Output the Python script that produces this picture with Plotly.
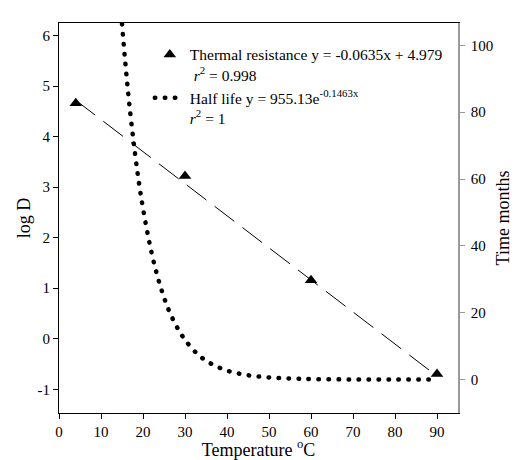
import plotly.graph_objects as go

# Thermal resistance (log D) measured points
temp_pts = [4, 30, 60, 90]
logd_pts = [4.66, 3.22, 1.16, -0.70]

# Regression line for thermal resistance (end points)
reg_x = [4, 90]
reg_y = [4.72, -0.74]

# Half life curve (months)
hl_x = [15, 16, 17, 18, 19, 20, 22, 24, 26, 28, 30, 33, 36, 40, 45, 50, 55, 60, 70, 80, 90]
hl_y = [106.4, 91.9, 79.4, 68.6, 59.2, 51.2, 38.2, 28.5, 21.2, 15.9, 11.9, 7.6, 4.9,
        2.7, 1.3, 0.64, 0.31, 0.15, 0.035, 0.008, 0.002]

x_ticks = [0, 10, 20, 30, 40, 50, 60, 70, 80, 90]
y_ticks = [-1, 0, 1, 2, 3, 4, 5, 6]
y_tick_labels = ["-1", "0", "1", "2", "3", "4", "5", "6"]
y2_ticks = [0, 20, 40, 60, 80, 100]

FONT = "Liberation Serif"

fig = go.Figure()

fig.add_trace(go.Scatter(
    x=reg_x, y=reg_y, mode="lines",
    line=dict(color="black", width=1, dash="24px,11px"),
    showlegend=False, hoverinfo="skip"))

fig.add_trace(go.Scatter(
    x=temp_pts, y=logd_pts, mode="markers",
    marker=dict(symbol="triangle-up", size=11, color="black"),
    name="Thermal resistance y = -0.0635x + 4.979<br> <i>r</i><sup>2</sup> = 0.998"))

fig.add_trace(go.Scatter(
    x=hl_x, y=hl_y, mode="lines", yaxis="y2",
    line=dict(color="black", width=4.5, dash="0.5px,9.5px", shape="spline"),
    name="Half life y = 955.13e<sup>-0.1463x</sup><br><i>r</i><sup>2</sup> = 1"))

fig.update_layout(
    width=518, height=460,
    margin=dict(l=59, r=60, t=23, b=47),
    paper_bgcolor="white", plot_bgcolor="white",
    font=dict(family=FONT, size=15, color="black"),
    showlegend=True,
    legend=dict(x=0.2276, y=0.962, xanchor="left", yanchor="top",
                bgcolor="rgba(0,0,0,0)", valign="top",
                font=dict(family=FONT, size=15.5, color="black")),
    xaxis=dict(range=[0, 95], tickvals=x_ticks, ticks="outside", ticklen=5,
               tickcolor="black", showline=True, linecolor="black", linewidth=1,
               mirror=True, showgrid=False, zeroline=False,
               automargin=False,
               title=dict(text="Temperature <sup>o</sup>C",
                          font=dict(family=FONT, size=18), standoff=6)),
    yaxis=dict(range=[-1.47, 6.25], tickvals=y_ticks, ticktext=y_tick_labels,
               ticks="outside", ticklen=5, automargin=False,
               tickcolor="black", showline=True, linecolor="black", linewidth=1,
               showgrid=False, zeroline=False,
               title=dict(text="log D", font=dict(family=FONT, size=18), standoff=2)),
    yaxis2=dict(range=[-10, 106.67], tickvals=y2_ticks, ticks="outside", ticklen=5,
                tickcolor="#9a9a9a", showline=True, linecolor="#9a9a9a", linewidth=1.5,
                overlaying="y", side="right", showgrid=False, zeroline=False,
                ticklabelstandoff=3, automargin=False,
                title=dict(text="Time months", font=dict(family=FONT, size=18), standoff=4)),
)

post = ("var s=document.createElement('style');"
        "s.innerHTML='.js-line{stroke-linecap:round !important}';"
        "document.head.appendChild(s);")

fig.write_html("out.html", post_script=post)
